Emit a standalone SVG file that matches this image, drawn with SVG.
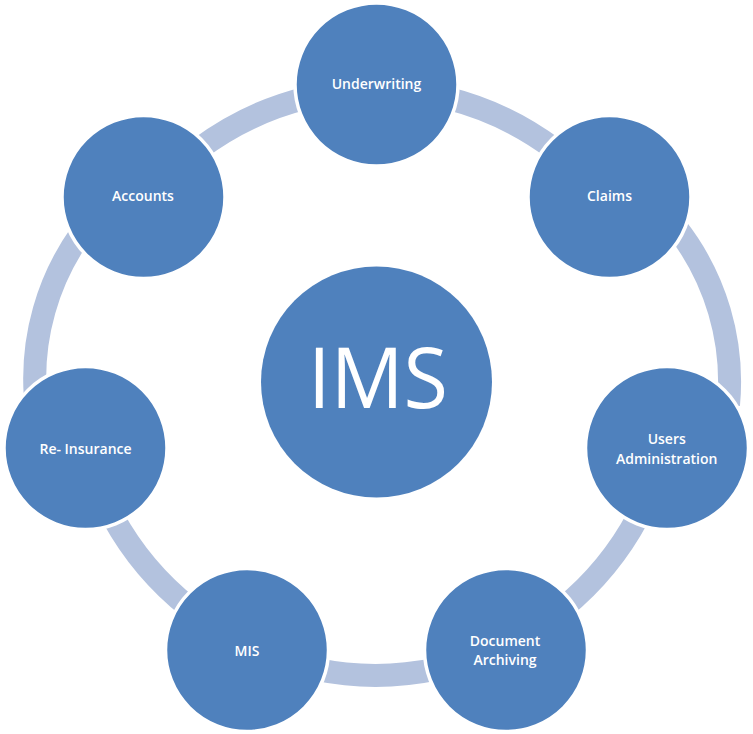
<svg xmlns="http://www.w3.org/2000/svg" width="753" height="734" viewBox="0 0 753 734">
<style>
.arc{fill:none;stroke:#B3C2DE;stroke-width:23;stroke-linecap:butt}
.node{fill:#4F81BD;stroke:#FFFFFF;stroke-width:3.5}
.lbl{fill:#FFFFFF;font-family:"Open Sans","Liberation Sans",sans-serif;font-size:14px;font-weight:600;text-anchor:middle}
.big{fill:#FFFFFF;font-family:"Open Sans","Liberation Sans",sans-serif;font-size:84px;text-anchor:middle}
</style>
<rect width="753" height="734" fill="#FFFFFF"/>
<g id="connectors">
<path class="arc" d="M447.2,98.1 A300,300 0 0 1 553.9,148.8"/>
<path class="arc" d="M676.4,227.7 A250,250 0 0 1 728.5,405"/>
<path class="arc" d="M638.1,516.6 A300,300 0 0 1 563,608"/>
<path class="arc" d="M436.8,669.05 A300,300 0 0 1 315.66,669.35"/>
<path class="arc" d="M189.6,607.8 A300,300 0 0 1 112.8,516.7"/>
<path class="arc" d="M35.2,394.5 A250,250 0 0 1 80.7,233.9"/>
<path class="arc" d="M199.1,148.8 A300,300 0 0 1 305.8,98.1"/>
</g>
<g id="ims">
<circle cx="376.5" cy="382" r="115.5" fill="#4F81BD"/>
<text class="big" x="378" y="408" textLength="140" lengthAdjust="spacingAndGlyphs">IMS</text>
</g>
<g id="underwriting">
<circle class="node" cx="376.5" cy="84.5" r="81.5"/>
<text class="lbl" x="376.5" y="89.3">Underwriting</text>
</g>
<g id="claims">
<circle class="node" cx="609.5" cy="197" r="81.5"/>
<text class="lbl" x="609.5" y="201">Claims</text>
</g>
<g id="users-administration">
<circle class="node" cx="667" cy="448" r="81.5"/>
<text class="lbl" x="666.7" y="444.3">Users</text>
<text class="lbl" x="666.7" y="463.5">Administration</text>
</g>
<g id="document-archiving">
<circle class="node" cx="506" cy="650" r="81.5"/>
<text class="lbl" x="505" y="646">Document</text>
<text class="lbl" x="505" y="665.2">Archiving</text>
</g>
<g id="mis">
<circle class="node" cx="247" cy="650" r="81.5"/>
<text class="lbl" x="247" y="656">MIS</text>
</g>
<g id="re-insurance">
<circle class="node" cx="85.5" cy="448" r="81.5"/>
<text class="lbl" x="85.5" y="454">Re- Insurance</text>
</g>
<g id="accounts">
<circle class="node" cx="143.5" cy="197" r="81.5"/>
<text class="lbl" x="143" y="200.7">Accounts</text>
</g>
</svg>
